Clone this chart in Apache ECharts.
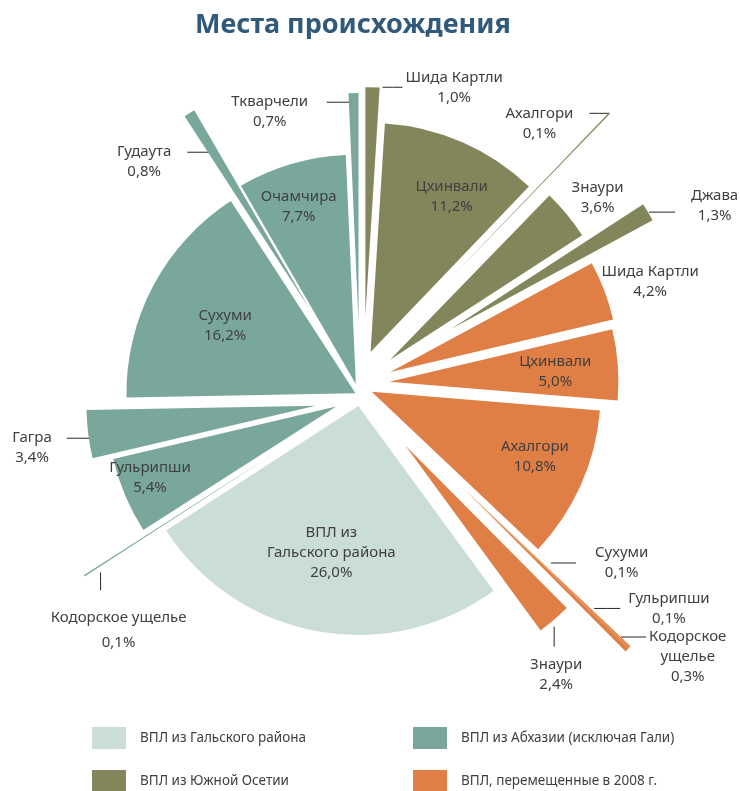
<!DOCTYPE html>
<html>
<head>
<meta charset="utf-8">
<script src="https://cdn.jsdelivr.net/npm/echarts@6/dist/echarts.min.js"></script>
<style>
html,body{margin:0;padding:0;background:#ffffff;}
#chart{width:740px;height:791px;}
</style>
</head>
<body>
<div id="chart"></div>
<script>
// ---------- DATA ----------
const chartTitle = 'Места происхождения';
const groups = ['ВПЛ из Гальского района', 'ВПЛ из Абхазии (исключая Гали)', 'ВПЛ из Южной Осетии', 'ВПЛ, перемещенные в 2008 г.'];
const places = ['Шида Картли', 'Цхинвали', 'Ахалгори', 'Знаури', 'Джава',
  'Шида Картли', 'Цхинвали', 'Ахалгори', 'Сухуми', 'Гульрипши', 'Кодорское\nущелье', 'Знаури',
  'ВПЛ из\nГальского района',
  'Кодорское ущелье', 'Гульрипши', 'Гагра', 'Сухуми', 'Гудаута', 'Очамчира', 'Ткварчели'];
const values = [1.0, 11.2, 0.1, 3.6, 1.3,
  4.2, 5.0, 10.8, 0.1, 0.1, 0.3, 2.4,
  26.0,
  0.1, 5.4, 3.4, 16.2, 0.8, 7.7, 0.7];
const groupOf = [2, 2, 2, 2, 2, 3, 3, 3, 3, 3, 3, 3, 0, 1, 1, 1, 1, 1, 1, 1];

// ---------- STYLE / LAYOUT ----------
const groupColors = ['#CADDD7', '#79A79C', '#83865A', '#DF7F46'];
const FONT = 'Noto Sans';
const TEXT = '#404040';
const LH = 20;
const C = [360, 391];   // pie centre (px)
const R = 229;          // pie radius (px)
// how far each slice is pulled out of the pie (px, along its bisector)
const explode = [75, 40, 144, 43, 110, 35, 30, 11, 143, 143, 143, 71, 15, 103, 28, 46, 3, 97, 8, 69];
// small sideways nudge of each pulled-out slice (px, + = clockwise)
const drift = [3, -6, -13, -5, -7, -7, -7, -4, -0.8, -1.7, -3.5, 1, -1, -6, -5, -9, -4, 0, -2, 0];
// label placement styles
const labelSpec = [
  {m: 'out', dir: 'r', len: 20, pad: 10, gap: 3, va: 'c'},
  {m: 'in', k: 0.763, t: 12},
  {m: 'out', dir: 'l', len: 20, pad: 0, gap: 16, va: 't'},
  {m: 'free', g: 34, t: 7},
  {m: 'out', dir: 'r', len: 26, pad: 1, gap: 16, va: 'c', dy: -6},
  {m: 'free', g: 46, t: 8},
  {m: 'in', k: 0.726, t: 2},
  {m: 'in', k: 0.767, t: -7},
  {m: 'out', dir: 'r', len: 25, f: 0.469, pad: 9, gap: 19, va: 'c'},
  {m: 'out', dir: 'r', len: 26, f: 0.752, pad: 6, gap: 8, va: 'c'},
  {m: 'out', dir: 'r', len: 25, f: 0.92, pad: 7, gap: 3, va: 't'},
  {m: 'out', dir: 'd', len: 20, pad: 7, gap: 8, dx: 2},
  {m: 'in', k: 0.653, t: 0},
  {m: 'out', dir: 'd', len: 18, f: 0.915, pad: 7, gap: 15, dx: 18, lh: 25},
  {m: 'in', k: 0.87, t: 7},
  {m: 'out', dir: 'l', len: 25, pad: -3, gap: 15, va: 't', at: -4},
  {m: 'in', k: 0.64, t: -2},
  {m: 'out', dir: 'l', len: 26, f: 0.8, pad: 0, gap: 16, va: 't'},
  {m: 'in', k: 0.813, t: -5},
  {m: 'out', dir: 'l', len: 25, f: 0.96, pad: 2, gap: 18.5, va: 't'}
];

// ---------- GEOMETRY (derived from data) ----------
const total = values.reduce((a, b) => a + b, 0);
let cum = 0;
const mids = values.map(v => { const m = (cum + v / 2) / total * 2 * Math.PI; cum += v; return m; });
const unit = i => [Math.sin(mids[i]), -Math.cos(mids[i])];   // outward along bisector
const tang = i => [Math.cos(mids[i]), Math.sin(mids[i])];    // clockwise tangent
const centers = values.map((v, i) => {
  const u = unit(i), t = tang(i);
  return [C[0] + explode[i] * u[0] + drift[i] * t[0], C[1] + explode[i] * u[1] + drift[i] * t[1]];
});

function fmt(i) {
  return places[i] + '\n' + values[i].toFixed(1).replace('.', ',') + '%';
}

function layoutLabel(i, p) {
  const s = labelSpec[i], u = unit(i), t = tang(i), c = centers[i];
  const w = p.labelRect.width;
  if (s.m === 'in' || s.m === 'free') {
    const r = s.m === 'in' ? s.k * R : R + s.g;
    const tt = s.t || 0;
    return {x: c[0] + r * u[0] + tt * t[0], y: c[1] + r * u[1] + tt * t[1], align: 'center', verticalAlign: 'middle'};
  }
  const f = s.f || 1, at = s.at || 0;
  const a = [c[0] + f * R * u[0] + at * t[0], c[1] + f * R * u[1] + at * t[1]];
  const dv = {r: [1, 0], l: [-1, 0], d: [0, 1]}[s.dir];
  const p0 = [a[0] + dv[0] * s.pad, a[1] + dv[1] * s.pad];
  const p1 = [p0[0] + dv[0] * s.len, p0[1] + dv[1] * s.len];
  const pm = [(p0[0] + p1[0]) / 2, (p0[1] + p1[1]) / 2];
  let x, y, va;
  if (s.dir === 'd') {
    x = p1[0] + (s.dx || 0); y = p1[1] + s.gap; va = 'top';
  } else {
    x = p1[0] + dv[0] * (s.gap + w / 2);
    if (s.va === 't') { y = p1[1] - LH / 2; va = 'top'; } else { y = p1[1]; va = 'middle'; }
  }
  y += (s.dy || 0);
  return {x: x, y: y, align: 'center', verticalAlign: va, labelLinePoints: [p0, pm, p1]};
}

const series = values.map((v, i) => {
  const s = labelSpec[i];
  return {
    type: 'pie',
    name: places[i],
    silent: true,
    animation: false,
    center: centers[i],
    radius: [0, R],
    startAngle: 90,
    clockwise: true,
    avoidLabelOverlap: false,
    minAngle: 0,
    label: {show: false, bleedMargin: -2000, overflow: 'none'},
    labelLine: {show: false},
    labelLayout: function (p) { return layoutLabel(i, p); },
    data: values.map((w, j) => ({
      name: groups[groupOf[j]],
      value: w,
      itemStyle: {color: j === i ? groupColors[groupOf[j]] : 'rgba(0,0,0,0)', borderWidth: 0},
      label: j === i ? {
        show: true,
        position: s.m === 'in' ? 'inside' : 'outside',
        formatter: function () { return fmt(i); },
        color: TEXT, fontFamily: FONT, fontSize: 15, lineHeight: s.lh || LH,
        align: 'center', overflow: 'none', bleedMargin: -2000
      } : {show: false},
      labelLine: (j === i && s.m === 'out') ? {show: true, length: 5, length2: 5, lineStyle: {color: '#262626', width: 1}} : {show: false}
    }))
  };
});

function legendFor(g, left, top) {
  return {
    left: left, top: top, orient: 'horizontal', icon: 'rect', padding: 0,
    itemWidth: 34, itemHeight: 22, selectedMode: false,
    textStyle: {fontFamily: FONT, fontSize: 13.5, color: TEXT, padding: [0, 0, 0, 9]},
    data: [{name: groups[g], icon: 'rect', itemStyle: {color: groupColors[g], opacity: 1, borderWidth: 0}}]
  };
}

const chart = echarts.init(document.getElementById('chart'), null, {renderer: 'canvas'});
chart.setOption({
  animation: false,
  backgroundColor: '#ffffff',
  title: {
    text: chartTitle, left: 190, top: 7,
    textStyle: {fontFamily: FONT, fontSize: 27, fontWeight: 'bold', color: '#31597A'}
  },
  legend: [legendFor(0, 92, 727), legendFor(2, 92, 770), legendFor(1, 413, 727), legendFor(3, 413, 770)],
  series: series
});
</script>
</body>
</html>
